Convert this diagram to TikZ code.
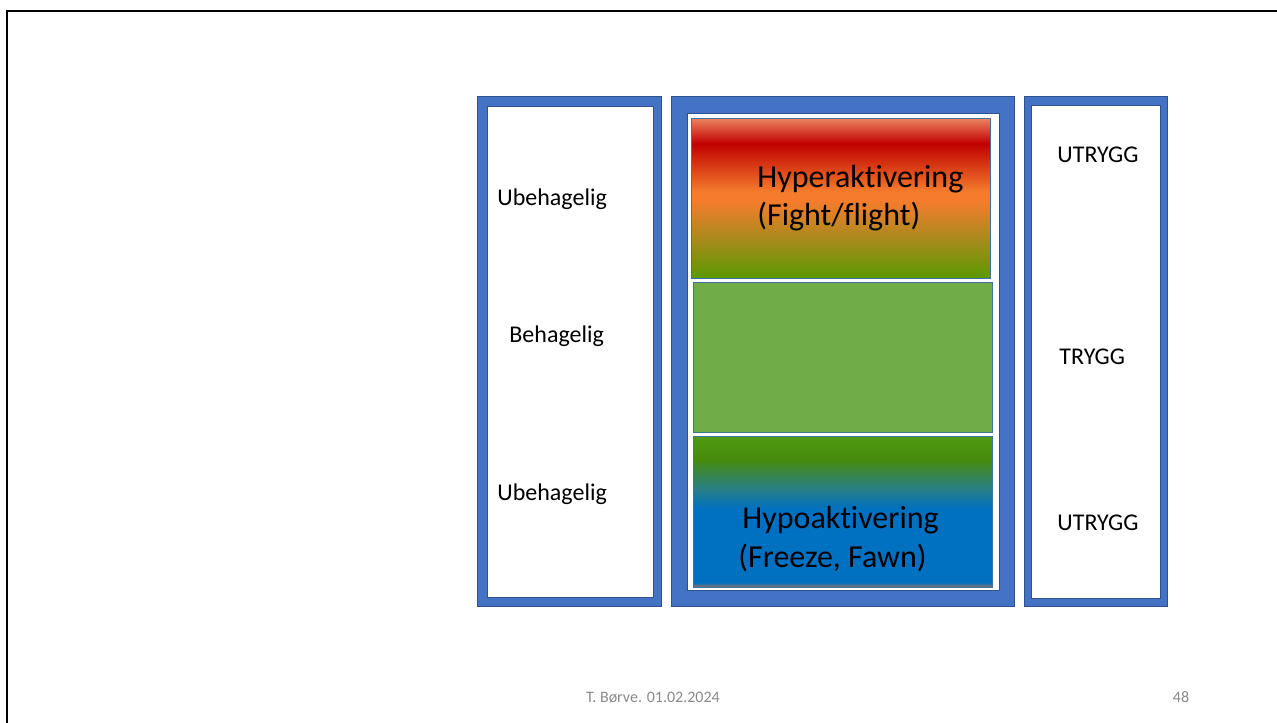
\documentclass[tikz,border=0pt]{standalone}
\usepackage{fontspec}
\setmainfont{Carlito}[Ligatures=NoCommon]
\definecolor{frameblue}{HTML}{4472C4}
\definecolor{frameedge}{HTML}{2F528F}
\definecolor{boxedge}{HTML}{41719C}
\definecolor{calmgreen}{HTML}{70AD47}
\definecolor{hyperred}{HTML}{C00000}
\definecolor{hypertop}{HTML}{EC8560}
\definecolor{hyperorange}{HTML}{F47C2C}
\definecolor{hyperolive}{HTML}{A88A1C}
\definecolor{hypergreen}{HTML}{5A9A00}
\definecolor{hypogreen}{HTML}{4E9A10}
\definecolor{hypoteal}{HTML}{2A8080}
\definecolor{hypoblue}{HTML}{0070C0}
\definecolor{hypobase}{HTML}{8A7470}
\definecolor{footgrey}{HTML}{898989}
% vertical shadings, 25bp = bottom edge, 75bp = top edge
\pgfdeclareverticalshading{hypershade}{100bp}{
  color(0bp)=(hypergreen); color(25bp)=(hypergreen); color(37bp)=(hyperolive);
  color(49bp)=(hyperorange); color(52bp)=(hyperorange); color(67bp)=(hyperred);
  color(75bp)=(hypertop); color(100bp)=(hypertop)}
\pgfdeclareverticalshading{hyposhade}{100bp}{
  color(0bp)=(hypobase); color(25bp)=(hypobase); color(26.5bp)=(hypoblue);
  color(51bp)=(hypoblue); color(58bp)=(hypoteal); color(67bp)=(hypogreen!90!black);
  color(75bp)=(hypogreen); color(100bp)=(hypogreen)}
\tikzset{
  bluebox/.style={fill=frameblue, draw=frameedge, line width=0.5pt},
  whitebox/.style={fill=white, draw=frameedge, line width=0.4pt},
  levelbox/.style={draw=boxedge, line width=0.5pt},
  sidetext/.style={anchor=base west, inner sep=0pt, font=\fontsize{12}{14}\selectfont},
  bigtext/.style={anchor=base west, inner sep=0pt, font=\fontsize{16}{19}\selectfont},
  foottext/.style={anchor=base, inner sep=0pt, text=footgrey, font=\fontsize{8}{10}\selectfont}
}
\begin{document}
\begin{tikzpicture}[x=0.5pt, y=-0.5pt]
    \useasboundingbox (0,0) rectangle (1277,722);
    % slide frame
    \draw [line width=1.25pt] (7,730) -- (7,11) -- (1290,11);

    % left column
    \path [bluebox] (477,97) rectangle (661,606);
    \path [whitebox] (487,106) rectangle (653,597);
    \node [sidetext] (unpleasantTop) at (497,205) {Ubehagelig};
    \node [sidetext] (pleasant) at (509,342) {Behagelig};
    \node [sidetext] (unpleasantBottom) at (497,500) {Ubehagelig};

    % middle column
    \path [bluebox] (671,97) rectangle (1014,606);
    \path [whitebox] (687,113) rectangle (999,590);
    \path [levelbox, shading=hypershade] (691,118) rectangle (990,278);
    \path [levelbox, fill=calmgreen] (693,282) rectangle (992,432);
    \path [levelbox, shading=hyposhade] (693,436) rectangle (992,587);
    \node [bigtext] (hyper) at (757,187) {Hyperaktivering};
    \node [bigtext] (hyperSub) at (757,225) {(Fight/flight)};
    \node [bigtext] (hypo) at (742,528) {Hypoaktivering};
    \node [bigtext] (hypoSub) at (738,567) {(Freeze, Fawn)};

    % right column
    \path [bluebox] (1024,97) rectangle (1167,606);
    \path [whitebox] (1031,105) rectangle (1160,598);
    \node [sidetext] (unsafeTop) at (1057,162) {UTRYGG};
    \node [sidetext] (safe) at (1059,364) {TRYGG};
    \node [sidetext] (unsafeBottom) at (1057,530) {UTRYGG};

    % footer
    \node [foottext] (author) at (653,702) {T. Børve. 01.02.2024};
    \node [foottext] (page) at (1181,702) {48};
\end{tikzpicture}
\end{document}
